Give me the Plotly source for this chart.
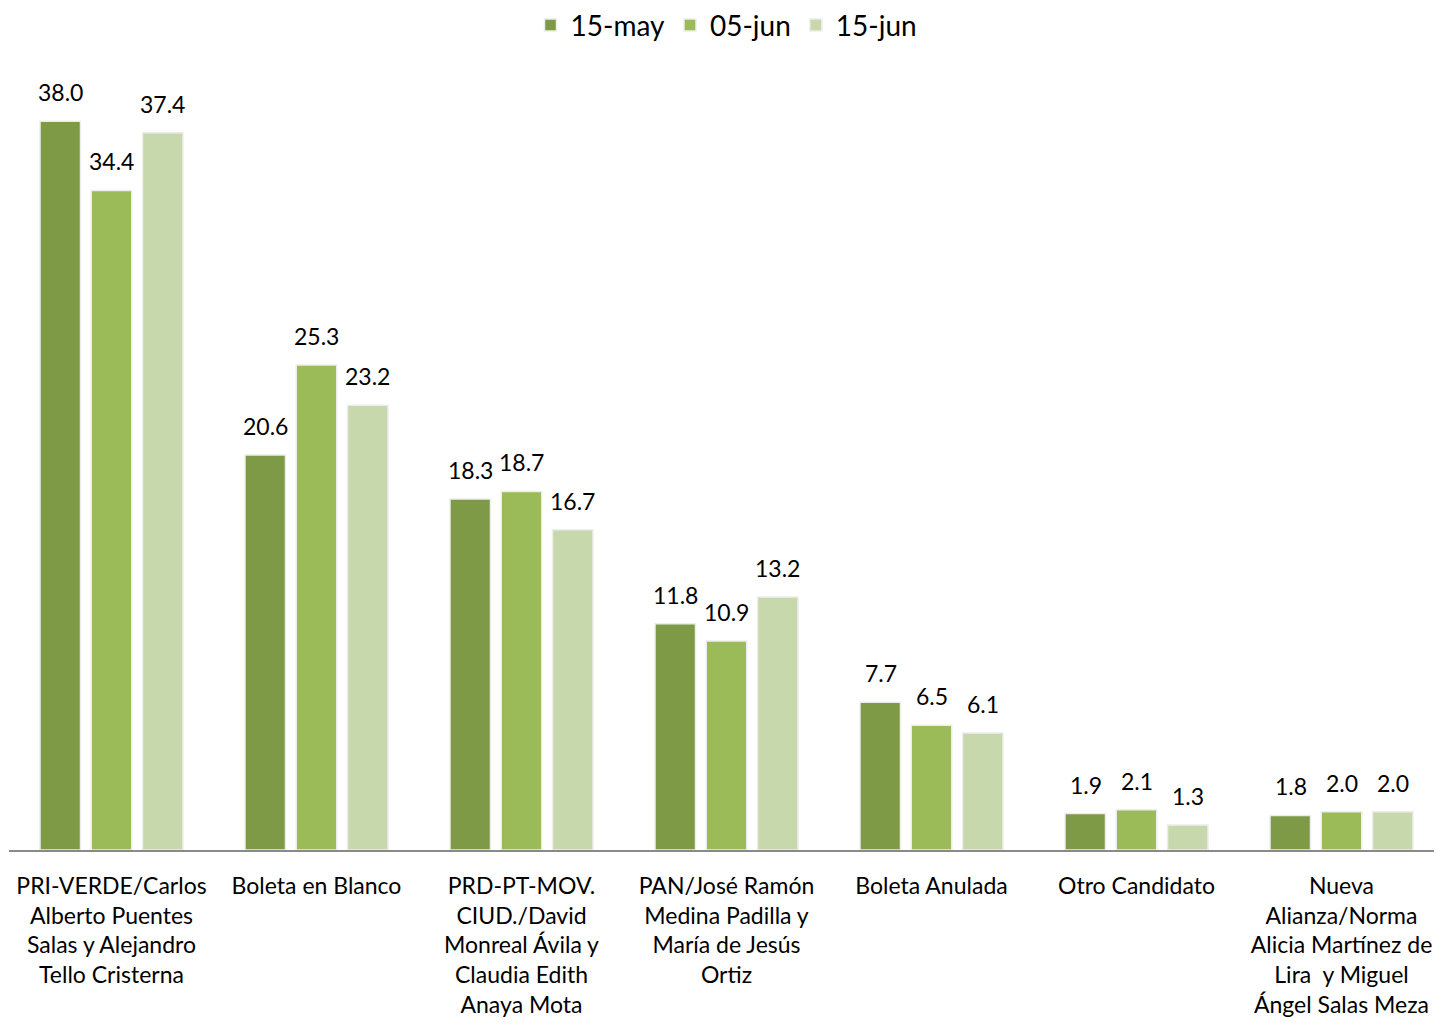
import plotly.graph_objects as go

categories = [
    "PRI-VERDE/Carlos<br>Alberto Puentes<br>Salas y Alejandro<br>Tello Cristerna",
    "Boleta en Blanco",
    "PRD-PT-MOV.<br>CIUD./David<br>Monreal Ávila y<br>Claudia Edith<br>Anaya Mota",
    "PAN/José Ramón<br>Medina Padilla y<br>María de Jesús<br>Ortiz",
    "Boleta Anulada",
    "Otro Candidato",
    "Nueva<br>Alianza/Norma<br>Alicia Martínez de<br>Lira  y Miguel<br>Ángel Salas Meza",
]
series_names = ["15-may", "05-jun", "15-jun"]
may15 = [38.0, 20.6, 18.3, 11.8, 7.7, 1.9, 1.8]
jun05 = [34.4, 25.3, 18.7, 10.9, 6.5, 2.1, 2.0]
jun15 = [37.4, 23.2, 16.7, 13.2, 6.1, 1.3, 2.0]
colors = ["#7E9A47", "#9BBB59", "#C7D8AD"]

FONT = "Lato, 'Open Sans', sans-serif"

fig = go.Figure()
all_series = [may15, jun05, jun15]
for name, vals, col in zip(series_names, all_series, colors):
    fig.add_trace(go.Bar(
        name=name, x=categories, y=vals,
        marker=dict(color=col, line=dict(color="#EDEDED", width=1.5)),
        cliponaxis=False,
    ))

# value labels as annotations anchored to data coordinates
for i, vals in enumerate(all_series):
    for cat, v in zip(categories, vals):
        fig.add_annotation(
            x=cat, y=v, text=f"{v:.1f}", showarrow=False,
            xshift=(i - 1) * 51, yshift=13, yanchor="bottom",
            font=dict(size=23, color="#000000", family=FONT),
        )

fig.update_layout(
    width=1442, height=1028,
    barmode="group", bargap=0.25, bargroupgap=0.21,
    plot_bgcolor="white", paper_bgcolor="white",
    margin=dict(l=1, r=6, t=52, b=186, autoexpand=False),
    font=dict(family=FONT, size=23, color="#000000"),
    legend=dict(orientation="h", x=0.5, xanchor="center", y=1.044,
                yanchor="middle", font=dict(size=28), traceorder="normal"),
    xaxis=dict(showline=True, linecolor="#898989", linewidth=2, ticks="",
               tickfont=dict(size=23), automargin=False, ticklabelstandoff=14),
    yaxis=dict(range=[0, 41.2], visible=False, showgrid=False),
)

fig.write_html("out.html")
